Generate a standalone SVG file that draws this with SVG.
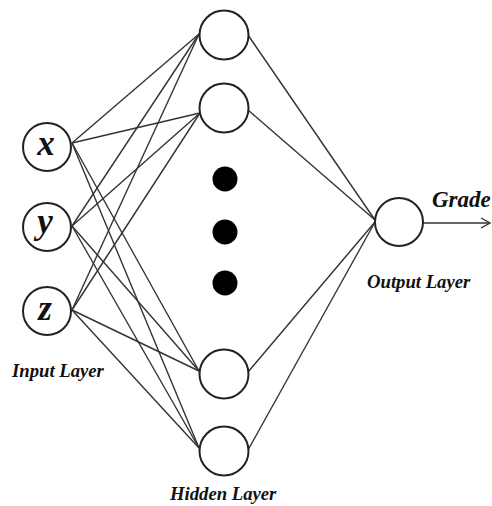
<svg xmlns="http://www.w3.org/2000/svg" width="492" height="506" viewBox="0 0 492 506">
<style>
.n{fill:#fff;stroke:#222;stroke-width:2}
.c line{stroke:#333;stroke-width:1.4}
.t{font-family:"Liberation Serif",serif;font-weight:bold;font-style:italic;fill:#111}
.lbl{font-size:18.7px}
.v{font-size:35px}
.d{fill:#000}
</style>
<defs>
<marker id="ah" markerWidth="12" markerHeight="12" refX="10" refY="6" orient="auto" markerUnits="userSpaceOnUse">
<path d="M1,1 L10,6 L1,11" fill="none" stroke="#333" stroke-width="1.4"/>
</marker>
</defs>
<rect width="492" height="506" fill="#fff"/>
<g class="c" id="connectors">
<line x1="72" y1="143" x2="199" y2="34"/>
<line x1="72" y1="143" x2="200" y2="113"/>
<line x1="72" y1="143" x2="199" y2="371"/>
<line x1="72" y1="143" x2="199" y2="448"/>
<line x1="72" y1="226" x2="199" y2="34"/>
<line x1="72" y1="226" x2="200" y2="113"/>
<line x1="72" y1="226" x2="199" y2="371"/>
<line x1="72" y1="226" x2="199" y2="448"/>
<line x1="72" y1="310" x2="199" y2="34"/>
<line x1="72" y1="310" x2="200" y2="113"/>
<line x1="72" y1="310" x2="199" y2="371"/>
<line x1="72" y1="310" x2="199" y2="448"/>
<line x1="248" y1="35" x2="375" y2="220"/>
<line x1="248" y1="110" x2="375" y2="220"/>
<line x1="248" y1="372" x2="375" y2="222"/>
<line x1="248" y1="450" x2="375" y2="222"/>
<line x1="423" y1="223" x2="490" y2="223" marker-end="url(#ah)"/>
</g>
<g id="in-x"><circle class="n" cx="47" cy="147" r="24"/><text class="t v" x="46" y="155" text-anchor="middle">x</text></g>
<g id="in-y"><circle class="n" cx="47" cy="227" r="24"/><text class="t v" x="45" y="233" text-anchor="middle">y</text></g>
<g id="in-z"><circle class="n" cx="47" cy="311" r="24"/><text class="t v" x="45" y="320" text-anchor="middle">z</text></g>
<g id="h1"><circle class="n" cx="224" cy="35" r="24.5"/></g>
<g id="h2"><circle class="n" cx="224" cy="108" r="24.5"/></g>
<g id="h3"><circle class="n" cx="224" cy="374" r="24.5"/></g>
<g id="h4"><circle class="n" cx="224" cy="451" r="24.5"/></g>
<g id="dots"><circle class="d" cx="225" cy="179" r="12.5"/><circle class="d" cx="225" cy="232" r="12.5"/><circle class="d" cx="225" cy="283" r="12.5"/></g>
<g id="out"><circle class="n" cx="399" cy="222" r="24"/></g>
<text class="t" x="432" y="207" font-size="23">Grade</text>
<text class="t lbl" x="367" y="288">Output Layer</text>
<text class="t lbl" x="12" y="377">Input Layer</text>
<text class="t lbl" x="170" y="500">Hidden Layer</text>
</svg>
